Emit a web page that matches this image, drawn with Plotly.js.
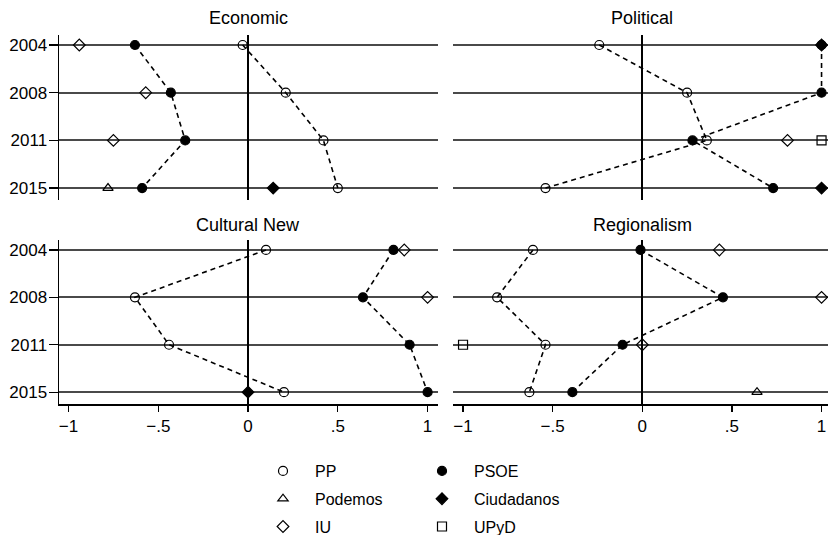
<!DOCTYPE html>
<html><head><meta charset="utf-8">
<script src="https://cdn.plot.ly/plotly-3.0.1.min.js"></script>
<style>html,body{margin:0;padding:0;background:#fff}#chart{width:828px;height:535px}</style>
</head><body><div id="chart"></div>
<script>
const years = ['2004','2008','2011','2015'];
const panelTitles = ['Economic','Political','Cultural New','Regionalism'];
const partyNames = ['PP','PSOE','Podemos','Ciudadanos','IU','UPyD'];
const xTickVals = [-1,-0.5,0,0.5,1];
const xTickText = ['\u22121','\u2212.5','0','.5','1'];

// Economic
const economicPP         = [-0.03, 0.21, 0.42, 0.50];
const economicPSOE       = [-0.63, -0.43, -0.35, -0.59];
const economicPodemos    = [null, null, null, -0.78];
const economicCiudadanos = [null, null, null, 0.14];
const economicIU         = [-0.94, -0.57, -0.75, null];
const economicUPyD       = [null, null, null, null];
// Political
const politicalPP         = [-0.24, 0.25, 0.36, -0.54];
const politicalPSOE       = [1.00, 1.00, 0.28, 0.73];
const politicalPodemos    = [null, null, null, null];
const politicalCiudadanos = [1.00, null, null, 1.00];
const politicalIU         = [null, null, 0.81, null];
const politicalUPyD       = [null, null, 1.00, null];
// Cultural New
const culturalPP         = [0.10, -0.63, -0.44, 0.20];
const culturalPSOE       = [0.81, 0.64, 0.90, 1.00];
const culturalPodemos    = [null, null, null, null];
const culturalCiudadanos = [null, null, null, 0.00];
const culturalIU         = [0.87, 1.00, null, null];
const culturalUPyD       = [null, null, null, null];
// Regionalism
const regionalPP         = [-0.61, -0.81, -0.54, -0.63];
const regionalPSOE       = [-0.01, 0.45, -0.11, -0.39];
const regionalPodemos    = [null, null, null, 0.64];
const regionalCiudadanos = [null, null, null, null];
const regionalIU         = [0.43, 1.00, 0.00, null];
const regionalUPyD       = [null, null, -1.00, null];

const panels = [
  {PP: economicPP, PSOE: economicPSOE, Podemos: economicPodemos, Ciudadanos: economicCiudadanos, IU: economicIU, UPyD: economicUPyD},
  {PP: politicalPP, PSOE: politicalPSOE, Podemos: politicalPodemos, Ciudadanos: politicalCiudadanos, IU: politicalIU, UPyD: politicalUPyD},
  {PP: culturalPP, PSOE: culturalPSOE, Podemos: culturalPodemos, Ciudadanos: culturalCiudadanos, IU: culturalIU, UPyD: culturalUPyD},
  {PP: regionalPP, PSOE: regionalPSOE, Podemos: regionalPodemos, Ciudadanos: regionalCiudadanos, IU: regionalIU, UPyD: regionalUPyD}
];

const style = {
  PP:         {symbol: 'circle-open',      legend: 'legend'},
  PSOE:       {symbol: 'circle',           legend: 'legend2'},
  Podemos:    {symbol: 'triangle-up-open', legend: 'legend'},
  Ciudadanos: {symbol: 'diamond',          legend: 'legend2'},
  IU:         {symbol: 'diamond-open',     legend: 'legend'},
  UPyD:       {symbol: 'square-open',      legend: 'legend2'}
};

const traces = [];
const shown = {};
panels.forEach((p, i) => {
  const xa = i === 0 ? 'x' : 'x' + (i + 1);
  const ya = i === 0 ? 'y' : 'y' + (i + 1);
  ['PP', 'PSOE'].forEach(name => {
    traces.push({type: 'scatter', mode: 'lines', x: p[name], y: years, xaxis: xa, yaxis: ya,
      line: {color: '#000', width: 1.6, dash: '5px,4px'}, showlegend: false, hoverinfo: 'skip',
      legend: style[name].legend, legendgroup: name});
  });
  partyNames.forEach(name => {
    const hasData = p[name].some(v => v !== null);
    const show = hasData && !shown[name];
    if (show) shown[name] = true;
    traces.push({type: 'scatter', mode: 'markers', name: name, x: p[name], y: years, xaxis: xa, yaxis: ya,
      marker: {symbol: style[name].symbol, size: 9, color: '#000', line: {color: '#000', width: 1.2}},
      showlegend: show, legend: style[name].legend, legendgroup: name});
  });
});

const W = 828, H = 535;
const leftDom = [59 / W, 438 / W];
const rightDom = [453 / W, 1];
const topDom = [1 - 200 / H, 1 - 35 / H];
const botDom = [1 - 404 / H, 1 - 240 / H];
const leftRange = [-1.053, 1.058];
const rightRange = [-1.056, 1.036];
const font = {family: 'Liberation Sans, Arial, sans-serif', color: '#000'};

function xAxis(dom, rng, anchor, bottom) {
  return {domain: dom, range: rng, anchor: anchor, showgrid: false,
    zeroline: true, zerolinecolor: '#000', zerolinewidth: 2,
    showline: bottom, linecolor: '#000', linewidth: 1.5,
    ticks: bottom ? 'outside' : '', ticklen: 6, tickwidth: 1.3, tickcolor: '#000',
    showticklabels: bottom, tickmode: 'array', tickvals: xTickVals, ticktext: xTickText,
    tickfont: Object.assign({size: 17}, font), fixedrange: true};
}
function yAxis(dom, anchor, left) {
  return {domain: dom, anchor: anchor, type: 'category', categoryarray: years, categoryorder: 'array',
    range: [3.25, -0.21], showgrid: true, gridcolor: '#4a4a4a', gridwidth: 2,
    zeroline: false, showline: left, linecolor: '#000', linewidth: 1.5,
    ticks: left ? 'outside' : '', ticklen: 9, tickwidth: 1.3, tickcolor: '#000', ticklabelstandoff: -2,
    showticklabels: left, tickfont: Object.assign({size: 17}, font), fixedrange: true};
}

const titleY = [1 - 18 / H, 1 - 18 / H, 1 - 225 / H, 1 - 225 / H];
const annotations = panelTitles.map((t, i) => ({
  text: t, xref: i === 0 ? 'x' : 'x' + (i + 1), yref: 'paper', x: 0, y: titleY[i],
  xanchor: 'center', yanchor: 'middle', showarrow: false, font: Object.assign({size: 18}, font)
}));

const legendBase = {orientation: 'v', xanchor: 'left', yanchor: 'top', y: 1 - 454 / H,
  bgcolor: 'rgba(0,0,0,0)', borderwidth: 0, traceorder: 'grouped', tracegroupgap: 4,
  itemwidth: 54,
  font: Object.assign({size: 16}, font), itemclick: false, itemdoubleclick: false};

const layout = {
  width: W, height: H, margin: {l: 0, r: 0, t: 0, b: 0, autoexpand: false},
  paper_bgcolor: '#fff', plot_bgcolor: '#fff', font: font,
  xaxis: xAxis(leftDom, leftRange, 'y', false),
  xaxis2: xAxis(rightDom, rightRange, 'y2', false),
  xaxis3: xAxis(leftDom, leftRange, 'y3', true),
  xaxis4: xAxis(rightDom, rightRange, 'y4', true),
  yaxis: yAxis(topDom, 'x', true),
  yaxis2: yAxis(topDom, 'x2', false),
  yaxis3: yAxis(botDom, 'x3', true),
  yaxis4: yAxis(botDom, 'x4', false),
  annotations: annotations,
  legend: Object.assign({}, legendBase, {x: 251 / W}),
  legend2: Object.assign({}, legendBase, {x: 410 / W}),
  showlegend: true
};

Plotly.newPlot('chart', traces, layout, {displayModeBar: false, staticPlot: true});
</script>
</body></html>
